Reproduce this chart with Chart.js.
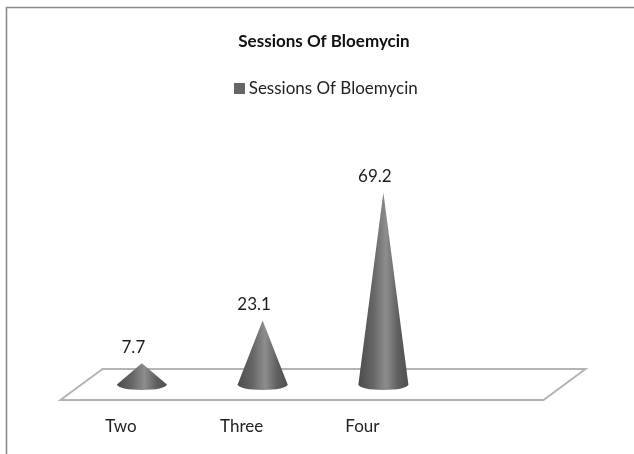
<!DOCTYPE html>
<html><head><meta charset="utf-8">
<style>html,body{margin:0;padding:0;background:#fff}#w{width:634px;height:454px;position:relative}canvas{filter:blur(0.35px)}</style>
<script src="https://cdn.jsdelivr.net/npm/chart.js@4"></script>
</head><body><div id="w"><canvas id="c" width="634" height="454"></canvas></div>
<script>
const categories = ['Two', 'Three', 'Four', ''];
const sessions = [7.7, 23.1, 69.2, null];
const valueLabels = ['7.7', '23.1', '69.2', ''];
const seriesName = 'Sessions Of Bloemycin';
const titleText = 'Sessions Of Bloemycin';
const fontFamily = 'Lato, "Open Sans", sans-serif';
const seriesColor = '#666666';

const depthX = 42, depthY = -31, coneHalf = 25, coneRy = 5.5;
const titleCentre = 324, legendCentre = 328;

// square legend swatch, narrower advance than the default box so the text sits close to it
const swatch = document.createElement('canvas');
swatch.width = 11; swatch.height = 11;
const sc = swatch.getContext('2d');
sc.fillStyle = seriesColor; sc.fillRect(0, 0, 11, 11);

const cones = {
  id: 'cones',
  afterLayout(chart) {
    const t = chart.titleBlock, l = chart.legend;
    const dt = titleCentre - (t.left + t.right) / 2;
    t.left += dt; t.right += dt;
    const dl = legendCentre - (l.left + l.right) / 2;
    l.left += dl; l.right += dl;
  },
  beforeDraw(chart) {
    const c = chart.ctx, w = chart.width, h = chart.height;
    c.save();
    c.strokeStyle = '#8c8c8c'; c.lineWidth = 1.6;
    c.beginPath(); c.moveTo(6.5, h); c.lineTo(6.5, 7.5); c.lineTo(w, 7.5); c.stroke();
    c.restore();
  },
  beforeDatasetsDraw(chart) {
    const c = chart.ctx, a = chart.chartArea;
    c.save();
    c.strokeStyle = '#b4b4b4'; c.lineWidth = 2; c.lineJoin = 'miter';
    c.beginPath();
    c.moveTo(a.left, a.bottom); c.lineTo(a.right, a.bottom);
    c.lineTo(a.right + depthX, a.bottom + depthY);
    c.lineTo(a.left + depthX, a.bottom + depthY);
    c.closePath(); c.stroke();
    c.restore();
  },
  beforeDatasetDraw(chart, args) {
    const c = chart.ctx;
    args.meta.data.forEach((el, i) => {
      if (sessions[i] == null) return;
      const cx = el.x + depthX / 2, by = el.base + depthY / 2, ty = el.y + depthY / 2;
      const g = c.createLinearGradient(cx - coneHalf, 0, cx + coneHalf, 0);
      g.addColorStop(0, '#4c4c4c');
      g.addColorStop(0.3, '#666666');
      g.addColorStop(0.55, '#8d8d8d');
      g.addColorStop(0.8, '#5e5e5e');
      g.addColorStop(1, '#505050');
      c.save();
      c.fillStyle = g;
      c.beginPath();
      c.moveTo(cx, ty);
      c.lineTo(cx - coneHalf, by);
      c.ellipse(cx, by, coneHalf, coneRy, 0, Math.PI, 0, true);
      c.closePath();
      c.fill();
      c.restore();
    });
    return false;
  },
  afterDatasetsDraw(chart) {
    const c = chart.ctx, meta = chart.getDatasetMeta(0);
    c.save();
    c.font = '17px ' + fontFamily; c.fillStyle = '#1c1c1c';
    c.textAlign = 'center'; c.textBaseline = 'middle';
    meta.data.forEach((el, i) => {
      if (!valueLabels[i]) return;
      c.fillText(valueLabels[i], el.x + depthX / 2 - 8.5, el.y + depthY / 2 - 16);
    });
    c.restore();
  }
};

new Chart(document.getElementById('c'), {
  type: 'bar',
  data: {
    labels: categories,
    datasets: [{ label: seriesName, data: sessions, backgroundColor: seriesColor, borderWidth: 0, pointStyle: swatch }]
  },
  plugins: [cones],
  options: {
    responsive: false,
    animation: false,
    layout: { padding: { left: 60.5, right: 90.5, top: 31, bottom: 9.6 } },
    plugins: {
      tooltip: { enabled: false },
      title: {
        display: true, text: titleText, color: '#111',
        font: { family: fontFamily, size: 17, weight: 'bold' },
        padding: { top: 0, bottom: 24.6 }
      },
      legend: {
        display: true, position: 'top',
        labels: { color: '#222', font: { family: fontFamily, size: 17 }, usePointStyle: true, boxWidth: 2, boxHeight: 11, padding: 4 }
      }
    },
    scales: {
      x: {
        grid: { display: false }, border: { display: false },
        ticks: { color: '#222', font: { family: fontFamily, size: 17 }, padding: 8, maxRotation: 0, autoSkip: false }
      },
      y: { display: false, min: 0, max: 105.6 }
    }
  }
});
</script></body></html>
